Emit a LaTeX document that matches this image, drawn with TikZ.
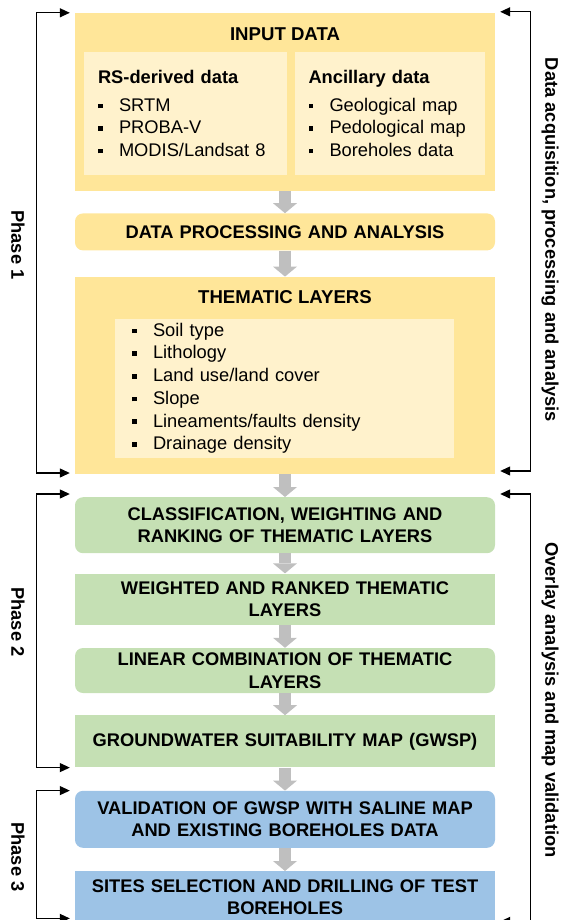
\documentclass[tikz,border=0pt]{standalone}
\usepackage{fontspec}
\setmainfont{Liberation Sans}
\usetikzlibrary{positioning}
\usetikzlibrary{arrows.meta}

\definecolor{panelyellow}{HTML}{FFE699}
\definecolor{paleyellow}{HTML}{FFF2CC}
\definecolor{stepgreen}{HTML}{C5E0B4}
\definecolor{stepblue}{HTML}{9DC3E6}
\definecolor{arrowgray}{HTML}{BFBFBF}

\newcommand{\sqbullet}{\makebox[21pt][l]{\raisebox{0.32ex}{\rule{4.5pt}{4.5pt}}}}

\begin{document}
\begin{tikzpicture}[
    font=\fontsize{18.3}{22.7}\selectfont,
    stepbox/.style={rectangle, minimum width=420pt, text width=410pt, align=center,
        inner xsep=5pt, inner ysep=2pt, font=\fontsize{18.3}{22.7}\selectfont\bfseries},
    panel/.style={stepbox, fill=panelyellow},
    subbox/.style={rectangle, fill=paleyellow, anchor=north west, align=left, inner xsep=14pt, inner ysep=0pt},
    title/.style={inner sep=0pt, font=\fontsize{18.6}{22.7}\selectfont\bfseries},
    sidelabel/.style={rotate=-90, inner sep=0pt, font=\fontsize{18.3}{22.7}\selectfont\bfseries},
    flowarrow/.style={draw=arrowgray, line width=12pt,
        -{Triangle[length=10pt 0 0, width=24pt 0 0, line width=0pt]}},
    phasebrace/.style={line width=1.2pt,
        {Triangle[length=10pt 0 0, width=9pt 0 0]}-{Triangle[length=10pt 0 0, width=9pt 0 0]}}
]
    \useasboundingbox (0pt,0pt) rectangle (565pt,-920pt);

    % Phase 1
    \node (input) [panel, minimum height=178pt] at (285pt,-102pt) {};
    \node (inputtitle) [title] at ([yshift=-21.5pt]input.north) {INPUT DATA};
    \node (rsdata) [subbox, text width=175pt, minimum height=123pt] at ([xshift=9pt,yshift=-39pt]input.north west)
        {\textbf{RS-derived data}\\[5pt]\sqbullet SRTM\\\sqbullet PROBA-V\\\sqbullet MODIS/Landsat 8};
    \node (ancdata) [subbox, text width=163pt, minimum height=123pt, inner xsep=13.5pt] at ([xshift=220pt,yshift=-39pt]input.north west)
        {\textbf{Ancillary data}\\[5pt]\sqbullet Geological map\\\sqbullet Pedological map\\\sqbullet Boreholes data};

    \node (proc) [panel, rounded corners=8pt, minimum height=37pt, below=22pt of input] {DATA PROCESSING AND ANALYSIS};

    \node (thematic) [panel, minimum height=197pt, below=26pt of proc] {};
    \node (thematictitle) [title] at ([yshift=-20pt]thematic.north) {THEMATIC LAYERS};
    \node (layers) [subbox, text width=305pt, minimum height=139pt, inner xsep=17pt] at ([xshift=40pt,yshift=-42pt]thematic.north west)
        {\sqbullet Soil type\\\sqbullet Lithology\\\sqbullet Land use/land cover\\\sqbullet Slope\\\sqbullet Lineaments/faults density\\\sqbullet Drainage density};

    % Phase 2
    \node (classif) [stepbox, fill=stepgreen, rounded corners=8pt, minimum height=56pt, below=23pt of thematic]
        {CLASSIFICATION, WEIGHTING AND\\RANKING OF THEMATIC LAYERS};
    \node (weighted) [stepbox, fill=stepgreen, minimum height=51pt, below=20pt of classif]
        {WEIGHTED AND RANKED THEMATIC\\LAYERS};
    \node (linear) [stepbox, fill=stepgreen, rounded corners=8pt, minimum height=45pt, below=23pt of weighted]
        {LINEAR COMBINATION OF THEMATIC\\LAYERS};
    \node (gwsp) [stepbox, fill=stepgreen, minimum height=52pt, below=22pt of linear]
        {GROUNDWATER SUITABILITY MAP (GWSP)};

    % Phase 3
    \node (valid) [stepbox, fill=stepblue, rounded corners=8pt, minimum height=57pt, below=23pt of gwsp]
        {VALIDATION OF GWSP WITH SALINE MAP\\AND EXISTING BOREHOLES DATA};
    \node (sites) [stepbox, fill=stepblue, minimum height=52pt, below=23pt of valid]
        {SITES SELECTION AND DRILLING OF TEST\\BOREHOLES};

    % Gray flow arrows
    \draw[flowarrow] (input) -- (proc);
    \draw[flowarrow] (proc) -- (thematic);
    \draw[flowarrow] (thematic) -- (classif);
    \draw[flowarrow] (classif) -- (weighted);
    \draw[flowarrow] (weighted) -- (linear);
    \draw[flowarrow] (linear) -- (gwsp);
    \draw[flowarrow] (gwsp) -- (valid);
    \draw[flowarrow] (valid) -- (sites);

    % Phase brackets (left)
    \coordinate (ph1in) at ([xshift=-5pt]input.north west);
    \coordinate (ph1out) at ([xshift=-5pt,yshift=1pt]thematic.south west);
    \coordinate (ph2in) at ([xshift=-5pt,yshift=3pt]classif.north west);
    \coordinate (ph2out) at ([xshift=-5pt]gwsp.south west);
    \coordinate (ph3in) at ([xshift=-5pt]valid.north west);
    \coordinate (ph3out) at ([xshift=-5pt,yshift=5pt]sites.south west);
    \draw[phasebrace] (ph1in) -- ++(-33pt,0) |- (ph1out);
    \draw[phasebrace] (ph2in) -- ++(-33pt,0) |- (ph2out);
    \draw[phasebrace] (ph3in) -- ++(-33pt,0) |- (ph3out);

    % Stage brackets (right)
    \coordinate (st1in) at ([xshift=5pt,yshift=1pt]input.north east);
    \coordinate (st1out) at ([xshift=5pt,yshift=3pt]thematic.south east);
    \coordinate (st2in) at ([xshift=5pt,yshift=3pt]classif.north east);
    \coordinate (st2out) at ([xshift=5pt,yshift=2pt]sites.south east);
    \draw[phasebrace] (st1in) -- ++(30pt,0) |- (st1out);
    \draw[phasebrace] (st2in) -- ++(30pt,0) |- (st2out);

    % Labels
    \node (phase1) [sidelabel] at (18pt,-245pt) {Phase 1};
    \node (phase2) [sidelabel] at (18pt,-622pt) {Phase 2};
    \node (phase3) [sidelabel] at (18pt,-857pt) {Phase 3};
    \node (stage1) [sidelabel] at (550pt,-240pt) {Data acquisition, processing and analysis};
    \node (stage2) [sidelabel] at (550pt,-700pt) {Overlay analysis and map validation};
\end{tikzpicture}
\end{document}
